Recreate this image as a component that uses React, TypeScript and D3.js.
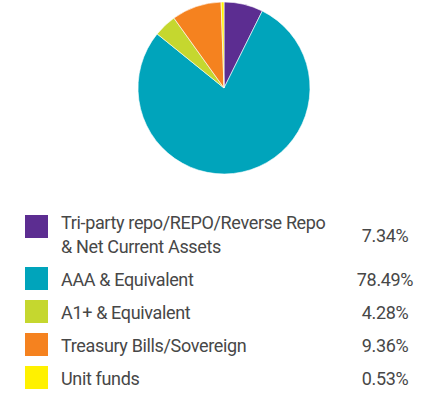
import React from 'react';
import * as d3 from 'd3';

const labels = [
    ['Tri-party repo/REPO/Reverse Repo', '& Net Current Assets'],
    ['AAA & Equivalent'],
    ['A1+ & Equivalent'],
    ['Treasury Bills/Sovereign'],
    ['Unit funds'],
];
const values = [7.34, 78.49, 4.28, 9.36, 0.53];
const colors = ['#5c2d91', '#00a4bb', '#c5d72f', '#f5821f', '#fff100'];

// legend row positions (swatch top)
const rowTops = [215, 267, 300, 333, 366];

export default function App() {
    const w = 447, h = 395;
    const cx = 224, cy = 88, r = 86;

    const pie = d3.pie<number>().sort(null).value(d => d);
    const arc = d3.arc<d3.PieArcDatum<number>>().innerRadius(0).outerRadius(r);
    const arcs = pie(values);

    return (
        <svg width={w} height={h} style={{ position: 'absolute', left: 0, top: 0 }}>
            <rect width={w} height={h} fill="#fff" />
            <g transform={`translate(${cx},${cy})`}>
                {arcs.map((a, i) => (
                    <path key={i} d={arc(a) || ''} fill={colors[i]} stroke="#fff" strokeWidth={0.6} />
                ))}
            </g>
            <g fontFamily="Roboto, 'Open Sans', sans-serif" fontSize={18} letterSpacing={-0.35} fill="#474747">
                {labels.map((lines, i) => {
                    const top = rowTops[i];
                    const sw = 23;
                    const multi = lines.length > 1;
                    return (
                        <g key={i}>
                            <rect x={25} y={top} width={sw} height={sw} fill={colors[i]} />
                            {lines.map((t, j) => (
                                <text key={j} x={61} y={top + 14 + j * 24 + (multi ? 0 : 5)}>{t}</text>
                            ))}
                            <text x={385} y={multi ? top + 27 : top + 19} textAnchor="middle">
                                {values[i].toFixed(2)}%
                            </text>
                        </g>
                    );
                })}
            </g>
        </svg>
    );
}
